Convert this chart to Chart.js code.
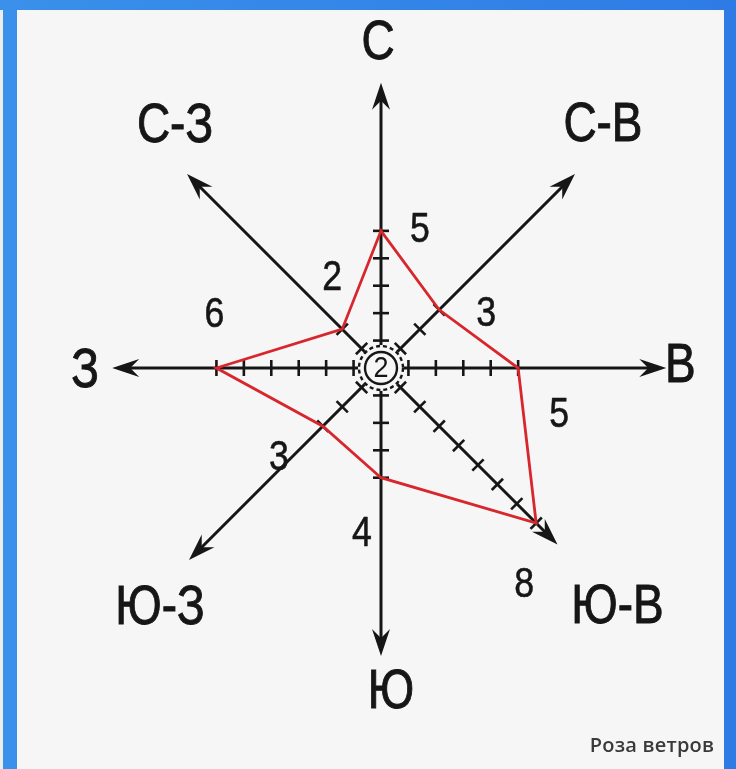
<!DOCTYPE html>
<html>
<head>
<meta charset="utf-8">
<script src="https://cdn.jsdelivr.net/npm/chart.js@4"></script>
<style>
  html, body { margin: 0; padding: 0; }
  body { width: 736px; height: 769px; position: relative; overflow: hidden;
         background: linear-gradient(90deg, #3a90ea, #2e7be6); }
  #sheet { position: absolute; left: 17px; top: 10px; width: 707px; height: 759px; background: #f6f6f6; }
  #edge { position: absolute; left: 0; top: 10px; width: 3px; height: 759px; background: #ececec; }
  #rose { position: absolute; left: 0; top: 0; }
  #caption { position: absolute; left: 552px; top: 731px; width: 200px; text-align: center;
             font: 600 20px "Open Sans", sans-serif; color: #3a3a3a; letter-spacing: 0.2px; }
</style>
</head>
<body>
<div id="edge"></div>
<div id="sheet"></div>
<canvas id="rose" width="736" height="769"></canvas>
<div id="caption">Роза ветров</div>
<script>
// wind rose data
var directions = ['С', 'С-В', 'В', 'Ю-В', 'Ю', 'Ю-З', 'З', 'С-З'];
var windDays = [5, 3, 5, 8, 4, 3, 6, 2];
var calmDays = 2;

// layout: arrow lengths in scale units, label shifts in px
var axisEnd = [10.4, 10.0, 10.4, 9.1, 10.5, 9.9, 9.8, 10.0];
var labelShift = [[-3, -41], [28, -50], [14, -3], [60, 61], [10, 35], [-29, 47], [-27, 2], [-12, -49]];
var numberShift = [[39, -2], [47, 3], [41, 45], [-12, 60], [-19, 55], [-44, 30], [-2, -55], [-10, -53]];

var INK = '#161616';
var LABEL_FONT = '"Liberation Sans", Arimo, sans-serif';

function arrowHead(ctx, tip, from) {
    var dx = tip.x - from.x, dy = tip.y - from.y;
    var len = Math.sqrt(dx * dx + dy * dy);
    var ux = dx / len, uy = dy / len;
    var px = -uy, py = ux;
    ctx.beginPath();
    ctx.moveTo(tip.x, tip.y);
    ctx.lineTo(tip.x - 27 * ux + 9 * px, tip.y - 27 * uy + 9 * py);
    ctx.lineTo(tip.x - 18 * ux, tip.y - 18 * uy);
    ctx.lineTo(tip.x - 27 * ux - 9 * px, tip.y - 27 * uy - 9 * py);
    ctx.closePath();
    ctx.fill();
}

// narrow text: squeeze horizontally like the condensed face in the picture
function narrowText(ctx, text, x, y, squeeze, weight) {
    ctx.save();
    ctx.translate(x, y);
    ctx.scale(squeeze, 1);
    ctx.fillText(text, 0, 0);
    if (weight) {
        ctx.lineWidth = weight;
        ctx.strokeText(text, 0, 0);
    }
    ctx.restore();
}

var rosePlugin = {
    id: 'rose',
    beforeDatasetsDraw: function (chart) {
        var scale = chart.scales.r;
        var ctx = chart.ctx;
        var cx = scale.xCenter, cy = scale.yCenter;
        ctx.save();
        ctx.strokeStyle = INK;
        ctx.fillStyle = INK;
        ctx.lineCap = 'butt';
        for (var i = 0; i < directions.length; i++) {
            var end = scale.getPointPositionForValue(i, axisEnd[i]);
            var back = scale.getPointPositionForValue(i, axisEnd[i] - 0.5);
            ctx.lineWidth = 3;
            ctx.beginPath();
            ctx.moveTo(cx, cy);
            ctx.lineTo(back.x, back.y);
            ctx.stroke();
            arrowHead(ctx, end, { x: cx, y: cy });

            // tick marks, one per day
            var ang = scale.getIndexAngle(i) - Math.PI / 2;
            var px = -Math.sin(ang), py = Math.cos(ang);
            ctx.lineWidth = 2.6;
            for (var v = 1; v <= windDays[i]; v++) {
                var p = scale.getPointPositionForValue(i, v);
                ctx.beginPath();
                ctx.moveTo(p.x - 8 * px, p.y - 8 * py);
                ctx.lineTo(p.x + 8 * px, p.y + 8 * py);
                ctx.stroke();
            }
        }
        ctx.restore();
    },
    afterDatasetsDraw: function (chart) {
        var scale = chart.scales.r;
        var ctx = chart.ctx;
        var cx = scale.xCenter, cy = scale.yCenter;
        ctx.save();

        // calm circle in the middle
        ctx.fillStyle = '#f6f6f6';
        ctx.beginPath();
        ctx.arc(cx, cy, 23, 0, Math.PI * 2);
        ctx.fill();
        ctx.strokeStyle = INK;
        ctx.lineWidth = 2.4;
        ctx.setLineDash([4, 3]);
        ctx.beginPath();
        ctx.arc(cx, cy, 22, 0, Math.PI * 2);
        ctx.stroke();
        ctx.setLineDash([]);
        ctx.beginPath();
        ctx.arc(cx, cy, 16, 0, Math.PI * 2);
        ctx.stroke();
        ctx.fillStyle = INK;
        ctx.textAlign = 'center';
        ctx.textBaseline = 'middle';
        ctx.font = '30px ' + LABEL_FONT;
        narrowText(ctx, String(calmDays), cx, cy + 1, 0.9);

        // direction names next to the arrow tips
        ctx.font = '56px ' + LABEL_FONT;
        for (var i = 0; i < directions.length; i++) {
            var p = scale.getPointPositionForValue(i, axisEnd[i]);
            narrowText(ctx, directions[i], p.x + labelShift[i][0], p.y + labelShift[i][1] + 2, 0.82, 1);
        }

        // day counts
        ctx.font = '42px ' + LABEL_FONT;
        for (var j = 0; j < windDays.length; j++) {
            var q = scale.getPointPositionForValue(j, windDays[j]);
            narrowText(ctx, String(windDays[j]), q.x + numberShift[j][0], q.y + numberShift[j][1] + 2, 0.85, 0.6);
        }
        ctx.restore();
    }
};

new Chart(document.getElementById('rose'), {
    type: 'radar',
    data: {
        labels: directions,
        datasets: [{
            data: windDays,
            borderColor: '#d8262d',
            borderWidth: 2.8,
            fill: false,
            pointRadius: 0,
            tension: 0
        }]
    },
    options: {
        responsive: false,
        animation: false,
        layout: { padding: { left: 93, right: 67, top: 80, bottom: 113 } },
        plugins: { legend: { display: false }, tooltip: { enabled: false } },
        scales: {
            r: {
                min: 0,
                max: 10.5,
                ticks: { display: false },
                grid: { display: false },
                angleLines: { display: false },
                pointLabels: { display: false }
            }
        }
    },
    plugins: [rosePlugin]
});
</script>
</body>
</html>
